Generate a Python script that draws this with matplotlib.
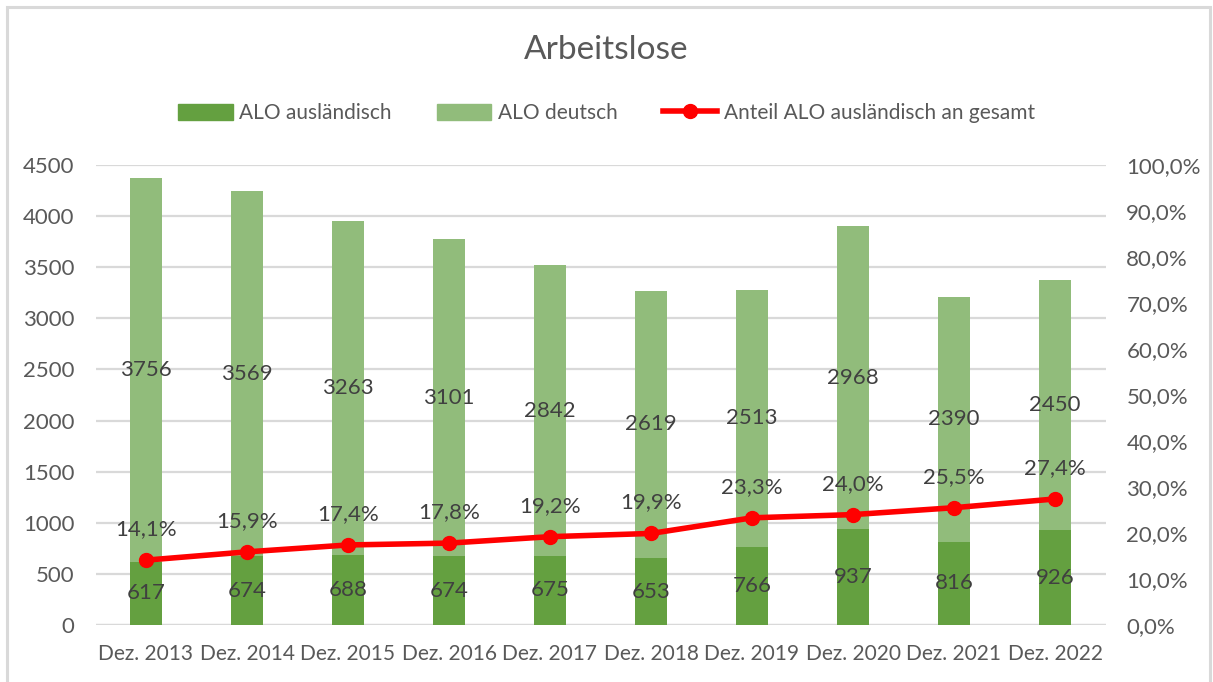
import matplotlib.pyplot as plt
from matplotlib.patches import Rectangle
from matplotlib.lines import Line2D
from matplotlib.ticker import FuncFormatter

plt.rcParams['font.family'] = ['Lato', 'DejaVu Sans']

years = ["Dez. 2013", "Dez. 2014", "Dez. 2015", "Dez. 2016", "Dez. 2017",
         "Dez. 2018", "Dez. 2019", "Dez. 2020", "Dez. 2021", "Dez. 2022"]
alo_auslaendisch = [617, 674, 688, 674, 675, 653, 766, 937, 816, 926]
alo_deutsch = [3756, 3569, 3263, 3101, 2842, 2619, 2513, 2968, 2390, 2450]
anteil = [14.1, 15.9, 17.4, 17.8, 19.2, 19.9, 23.3, 24.0, 25.5, 27.4]

DARK = "#64A040"
LIGHT = "#91BC7B"
RED = "#FF0000"
GRID = "#D9D9D9"
TICK = "#595959"
LABEL = "#404040"
FS = 16

W, H = 1213, 682
fig = plt.figure(figsize=(W / 100, H / 100), dpi=100)

# outer chart border
fig.patches.append(Rectangle((6.5 / W, -0.05), (W - 10) / W, 1.05 - 6.5 / H,
                             transform=fig.transFigure, fill=False,
                             ec="#D9D9D9", lw=2.2))

ax = fig.add_axes([95.5 / W, (H - 625) / H, 1010 / W, 460 / H])
x = list(range(len(years)))

ax.bar(x, alo_auslaendisch, width=0.31, color=DARK, zorder=2)
ax.bar(x, alo_deutsch, width=0.31, bottom=alo_auslaendisch, color=LIGHT, zorder=2)

for i in x:
    ax.text(i, alo_auslaendisch[i] / 2, str(alo_auslaendisch[i]), ha="center",
            va="center", fontsize=FS, color=LABEL, zorder=4)
    ax.text(i, alo_auslaendisch[i] + alo_deutsch[i] / 2, str(alo_deutsch[i]),
            ha="center", va="center", fontsize=FS, color=LABEL, zorder=4)

ax.set_xlim(-0.5, len(years) - 0.5)
ax.set_ylim(0, 4500)
ax.set_yticks(range(0, 4501, 500))
ax.yaxis.grid(True, color=GRID, lw=1.6, zorder=0)
ax.set_axisbelow(True)
for s in ax.spines.values():
    s.set_visible(False)
ax.axhline(0, color=GRID, lw=1.6, zorder=1)
ax.tick_params(axis="y", length=0, pad=15, labelsize=FS, labelcolor=TICK)
ax.tick_params(axis="x", length=0, pad=14, labelsize=15, labelcolor=TICK)
ax.set_xticks(x)
ax.set_xticklabels(years)

ax2 = ax.twinx()
ax2.set_ylim(0, 100)
ax2.set_yticks(range(0, 101, 10))
ax2.yaxis.set_major_formatter(FuncFormatter(lambda v, p: f"{v:.1f}%".replace(".", ",")))
for s in ax2.spines.values():
    s.set_visible(False)
ax2.tick_params(axis="y", length=0, pad=15, labelsize=FS, labelcolor=TICK)
ax2.plot(x, anteil, color=RED, lw=4, marker="o", markersize=10, zorder=5)
for i in x:
    ax2.annotate(f"{anteil[i]:.1f}%".replace(".", ","), (i, anteil[i]),
                 xytext=(0, 31), textcoords="offset pixels", ha="center",
                 va="center", fontsize=FS, color=LABEL)

fig.text(0.5, 1 - 50 / H, "Arbeitslose", ha="center", va="center",
         fontsize=24, color=TICK)

handles = [Rectangle((0, 0), 1, 1, color=DARK),
           Rectangle((0, 0), 1, 1, color=LIGHT),
           Line2D([0], [0], color=RED, lw=4, marker="o", markersize=10)]
fig.legend(handles, ["ALO ausländisch", "ALO deutsch", "Anteil ALO ausländisch an gesamt"],
           loc="center", bbox_to_anchor=(0.5, 1 - 113 / H), ncol=3, frameon=False,
           fontsize=15, labelcolor=TICK, handlelength=2.6, handleheight=0.8,
           handletextpad=0.3, columnspacing=2.2)

fig.savefig("out.png", dpi=100)
